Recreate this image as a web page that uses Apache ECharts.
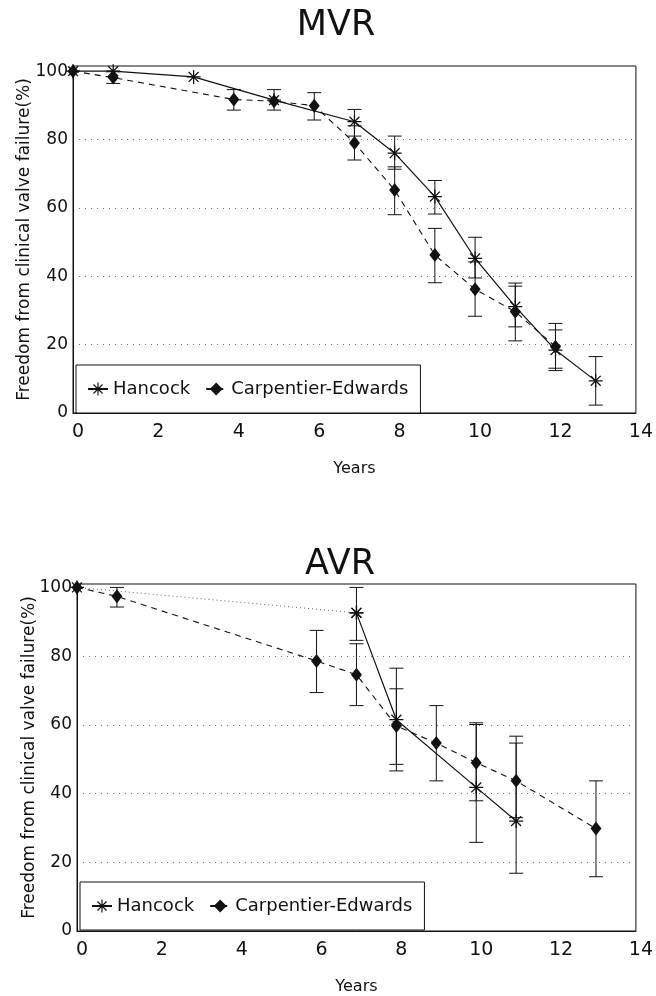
<!DOCTYPE html>
<html>
<head>
<meta charset="utf-8">
<script src="https://cdn.jsdelivr.net/npm/echarts@6/dist/echarts.min.js"></script>
<style>
  html, body { margin: 0; padding: 0; background: #fff; }
  #main { width: 656px; height: 996px; }
</style>
</head>
<body>
<div id="main"></div>
<script>
// axis ticks
const xTicks = [0, 2, 4, 6, 8, 10, 12, 14];
const yTicks = [0, 20, 40, 60, 80, 100];

// MVR
const mvrHancockYears = [0, 1, 3, 5, 7, 8, 9, 10, 11, 12, 13];
const mvrHancock = [100, 100, 98.3, 91.5, 85.2, 76, 63.3, 45.2, 31.1, 18.4, 9.4];
const mvrHancockLow = [null, null, null, 88.6, 81, 71.3, 58.2, 39.5, 25.2, 13.1, 2.3];
const mvrHancockHigh = [null, null, null, 94.6, 88.8, 81, 68, 51.4, 37.1, 24.3, 16.5];

const mvrCeYears = [0, 1, 4, 5, 6, 7, 8, 9, 10, 11, 12];
const mvrCe = [100, 98.1, 91.7, 91.2, 89.9, 79, 65.2, 46.2, 36.2, 29.6, 19.4];
const mvrCeLow = [null, 96.4, 88.6, null, 85.7, 74, 58, 38.1, 28.3, 21.1, 12.4];
const mvrCeHigh = [null, 99.8, 94.6, null, 93.7, 84, 72, 54, 44.2, 38, 26.2];

// AVR
const avrHancockYears = [0, 7, 8, 10, 11];
const avrHancock = [100, 92.6, 61.5, 41.8, 32.0];
const avrHancockLow = [null, 84.6, 46.6, 25.8, 16.8];
const avrHancockHigh = [null, 100, 76.5, 60.6, 56.7];

const avrCeYears = [0, 1, 6, 7, 8, 9, 10, 11, 13];
const avrCe = [100, 97.4, 78.6, 74.6, 59.7, 54.7, 49.0, 43.7, 29.8];
const avrCeLow = [null, 94.3, 69.4, 65.6, 48.5, 43.7, 37.9, 33, 15.8];
const avrCeHigh = [null, 100, 87.5, 83.6, 70.5, 65.6, 60.1, 54.7, 43.7];

const FONT = "DejaVu Sans";
const INK = "#111";

function pts(years, vals) {
  return years.map((x, i) => [x, vals[i]]);
}
function bars(years, lo, hi) {
  return years.map((x, i) => [x, lo[i], hi[i]]).filter(d => d[1] != null);
}

// asterisk marker
function starPath() {
  const L = 10, w = 0.9;
  let d = "";
  [0, 45, 90, 135].forEach(a => {
    const r = a * Math.PI / 180, c = Math.cos(r), s = Math.sin(r);
    const p = [
      [L * c - w * s, L * s + w * c],
      [L * c + w * s, L * s - w * c],
      [-L * c + w * s, -L * s - w * c],
      [-L * c - w * s, -L * s + w * c]
    ];
    d += "M" + p.map(q => q[0].toFixed(2) + "," + q[1].toFixed(2)).join("L") + "Z";
  });
  return "path://" + d;
}
const STAR = starPath();

function hancock(data, gi, extra) {
  return Object.assign({
    name: "Hancock", type: "line", xAxisIndex: gi, yAxisIndex: gi,
    data: data, symbol: STAR, symbolSize: 14, z: 3,
    itemStyle: { color: INK },
    lineStyle: { color: INK, width: 1.2, type: "solid" }
  }, extra || {});
}
function carpentier(data, gi) {
  return {
    name: "Carpentier-Edwards", type: "line", xAxisIndex: gi, yAxisIndex: gi,
    data: data, symbol: "diamond", symbolSize: [11, 14], z: 3,
    itemStyle: { color: INK },
    lineStyle: { color: INK, width: 1.1, type: [6, 5] }
  };
}
function errorBars(data, gi) {
  return {
    type: "custom", xAxisIndex: gi, yAxisIndex: gi, data: data, z: 2, silent: true,
    encode: { x: 0, y: [1, 2] },
    renderItem: (params, api) => {
      const x = api.value(0);
      const lo = api.coord([x, api.value(1)]);
      const hi = api.coord([x, api.value(2)]);
      const h = 7;
      const style = { stroke: INK, lineWidth: 1 };
      return {
        type: "group",
        children: [
          { type: "line", shape: { x1: lo[0], y1: lo[1], x2: hi[0], y2: hi[1] }, style: style },
          { type: "line", shape: { x1: lo[0] - h, y1: lo[1], x2: lo[0] + h, y2: lo[1] }, style: style },
          { type: "line", shape: { x1: hi[0] - h, y1: hi[1], x2: hi[0] + h, y2: hi[1] }, style: style }
        ]
      };
    }
  };
}

function xAxis(gi) {
  return {
    type: "value", gridIndex: gi,
    min: xTicks[0], max: xTicks[xTicks.length - 1], interval: xTicks[1] - xTicks[0],
    name: "Years", nameLocation: "middle", nameGap: 48, nameMoveOverlap: false,
    nameTextStyle: { fontFamily: FONT, fontSize: 16, color: INK },
    axisLine: { show: true, lineStyle: { color: INK, width: 1 } },
    axisTick: { show: false },
    splitLine: { show: false },
    axisLabel: { fontFamily: FONT, fontSize: 19, color: INK, margin: 10, padding: [0, 0, 0, 10] }
  };
}
function yAxis(gi, top, gap) {
  const grey = "#777";
  return {
    type: "value", gridIndex: gi,
    min: yTicks[0], max: top, interval: yTicks[1] - yTicks[0],
    name: "Freedom from clinical valve failure(%)", nameLocation: "middle",
    nameGap: gap, nameMoveOverlap: false,
    nameTextStyle: { fontFamily: FONT, fontSize: 17, color: INK },
    axisLine: { show: true, lineStyle: { color: INK, width: 1 } },
    axisTick: { show: false },
    axisLabel: { fontFamily: FONT, fontSize: 17, color: INK, margin: 5, showMaxLabel: false },
    splitLine: {
      show: true,
      lineStyle: { type: [1, 5], width: 1, color: ["transparent", grey, grey, grey, grey, "transparent", "transparent"] }
    }
  };
}
function legend(left, top) {
  return {
    data: ["Hancock", "Carpentier-Edwards"],
    left: left, top: top, orient: "horizontal",
    itemWidth: 20, itemHeight: 16, itemGap: 15,
    padding: [15, 12, 15, 11],
    borderColor: INK, borderWidth: 1, backgroundColor: "#fff",
    textStyle: { fontFamily: FONT, fontSize: 18, color: INK, lineHeight: 18 },
    selectedMode: false
  };
}

const chart = echarts.init(document.getElementById("main"));
chart.setOption({
  animation: false,
  backgroundColor: "#fff",
  title: [
    { text: "MVR", left: 331, top: 3, textAlign: "center",
      textStyle: { fontFamily: FONT, fontSize: 35, fontWeight: "normal", color: INK } },
    { text: "AVR", left: 335, top: 542, textAlign: "center",
      textStyle: { fontFamily: FONT, fontSize: 35, fontWeight: "normal", color: INK } }
  ],
  grid: [
    { left: 73, top: 66, width: 567, height: 347, show: true, borderColor: INK, borderWidth: 1, backgroundColor: "transparent" },
    { left: 77, top: 584, width: 566, height: 347, show: true, borderColor: INK, borderWidth: 1, backgroundColor: "transparent" }
  ],
  xAxis: [xAxis(0), xAxis(1)],
  yAxis: [yAxis(0, 101.5, 40), yAxis(1, 101, 39)],
  legend: [legend(76, 365), legend(80, 882)],
  series: [
    errorBars(bars(mvrHancockYears, mvrHancockLow, mvrHancockHigh), 0),
    errorBars(bars(mvrCeYears, mvrCeLow, mvrCeHigh), 0),
    hancock(pts(mvrHancockYears, mvrHancock), 0),
    carpentier(pts(mvrCeYears, mvrCe), 0),

    errorBars(bars(avrHancockYears, avrHancockLow, avrHancockHigh), 1),
    errorBars(bars(avrCeYears, avrCeLow, avrCeHigh), 1),
    hancock(pts(avrHancockYears, avrHancock).slice(1), 1),
    hancock(pts(avrHancockYears, avrHancock).slice(0, 2), 1, {
      lineStyle: { color: "#666", width: 1, type: [1, 3] }
    }),
    carpentier(pts(avrCeYears, avrCe), 1)
  ]
});
</script>
</body>
</html>
